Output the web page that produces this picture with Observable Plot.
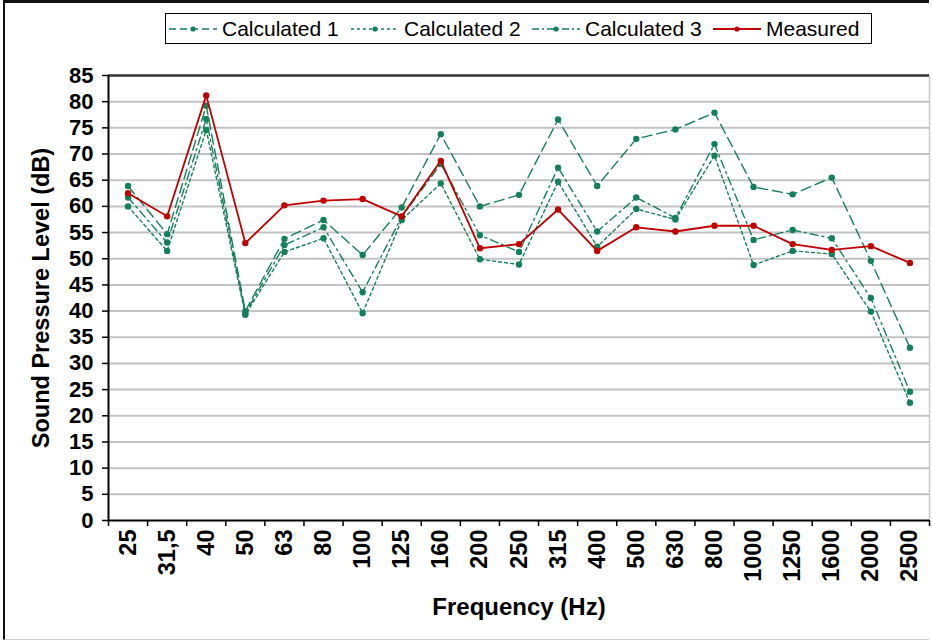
<!DOCTYPE html>
<html>
<head>
<meta charset="utf-8">
<script src="https://cdn.jsdelivr.net/npm/d3@7"></script>
<script src="https://cdn.jsdelivr.net/npm/@observablehq/plot@0.6"></script>
<style>
  html, body { margin: 0; padding: 0; background: #fff; }
  #wrap { position: relative; width: 932px; height: 642px; overflow: hidden; font-family: "Liberation Sans", Arial, sans-serif; }
  #outer { position: absolute; left: 3px; top: 0px; width: 924px; height: 636px; border-top: 3px solid #111; border-left: 2px solid #111; border-bottom: 1px solid #ccc; pointer-events: none; }
  #legend { position: absolute; left: 165px; top: 13px; width: 705px; height: 29px; border: 1.5px solid #000; background: #fff; }
  .item { position: absolute; top: 0; height: 29px; display: flex; align-items: center; font-size: 21px; color: #000; white-space: nowrap; }
  .item svg { margin-right: 5px; }
</style>
</head>
<body>
<div id="wrap"></div>
<script>
const categories = ["25","31,5","40","50","63","80","100","125","160","200","250","315","400","500","630","800","1000","1250","1600","2000","2500"];
const calc1    = [63.9,54.7,79.2,40.0,53.8,57.4,50.7,59.8,73.8,60.0,62.2,76.6,63.9,72.9,74.7,77.9,63.7,62.3,65.5,49.6,33.0];
const calc2    = [60.0,51.5,74.6,39.3,51.3,53.9,39.6,57.4,64.4,49.9,48.9,64.7,52.3,59.5,57.5,69.7,48.8,51.5,50.9,39.9,22.5];
const calc3    = [61.7,53.1,76.7,39.6,52.6,56.0,43.6,58.0,68.1,54.5,51.3,67.4,55.2,61.7,57.8,71.9,53.6,55.5,53.9,42.5,24.6];
const measured = [62.5,58.1,81.2,53.0,60.2,61.1,61.4,58.1,68.7,52.0,52.8,59.4,51.5,56.0,55.2,56.3,56.3,52.8,51.7,52.4,49.2];
const seriesNames = ["Calculated 1","Calculated 2","Calculated 3","Measured"];
const yTicks = [0,5,10,15,20,25,30,35,40,45,50,55,60,65,70,75,80,85];
const yTitle = "Sound Pressure Level (dB)";
const xTitle = "Frequency (Hz)";

const green = "#14805a";
const red = "#c00000";
const dashes = ["10,5", "3,3", "8,4,2,4", null];
const colors = [green, green, green, red];
const allSeries = [calc1, calc2, calc3, measured];

const rows = allSeries.map(vals => vals.map((v, i) => ({i, v})));
const idx = categories.map((d, i) => i);
const bounds = categories.map((d, i) => i - 0.5).concat([categories.length - 0.5]);

const marks = [];
marks.push(Plot.ruleY(yTicks.filter(v => v > 0 && v < 85), {stroke: "#c2c2c2", strokeWidth: 2}));
marks.push(Plot.ruleX([categories.length - 0.5], {stroke: "#c8c8c8", strokeWidth: 1.5}));
marks.push(Plot.ruleY([85], {stroke: "#333", strokeWidth: 2.5}));
marks.push(Plot.axisY(yTicks, {tickSize: 6, tickPadding: 9, fontSize: 22, fontWeight: "bold", label: null, stroke: "#000", strokeWidth: 1.5}));
marks.push(Plot.axisX(bounds, {tickSize: 6, tickFormat: () => "", label: null, stroke: "#000", strokeWidth: 1.5}));
marks.push(Plot.axisX(idx, {tickSize: 0, tickPadding: 9, tickRotate: -90, tickFormat: i => categories[i], fontSize: 23.5, fontWeight: "bold", label: null}));
[0, 1, 2, 3].forEach(s => {
  marks.push(Plot.line(rows[s], {x: "i", y: "v", stroke: colors[s], strokeWidth: s === 3 ? 1.8 : 1.4, strokeDasharray: dashes[s] || undefined}));
  marks.push(Plot.dot(rows[s], {x: "i", y: "v", fill: colors[s], r: 3.2, stroke: "none"}));
});
marks.push(Plot.ruleX([-0.5], {stroke: "#000", strokeWidth: 2}));
marks.push(Plot.ruleY([0], {stroke: "#000", strokeWidth: 2}));
marks.push(Plot.text([yTitle], {frameAnchor: "left", textAnchor: "middle", rotate: -90, dx: -67, fontSize: 23.5, fontWeight: "bold", fill: "#000"}));
marks.push(Plot.text([xTitle], {frameAnchor: "bottom", textAnchor: "middle", dy: 94, fontSize: 24, fontWeight: "bold", fill: "#000"}));

const chart = Plot.plot({
  width: 932,
  height: 642,
  marginLeft: 108,
  marginRight: 3,
  marginTop: 75,
  marginBottom: 122,
  style: {fontFamily: "'Liberation Sans', Arial, sans-serif", background: "#fff", color: "#000", overflow: "visible"},
  x: {domain: [-0.5, categories.length - 0.5]},
  y: {domain: [0, 85]},
  marks
});
const wrap = document.getElementById("wrap");
wrap.appendChild(chart);

const outer = document.createElement("div");
outer.id = "outer";
wrap.appendChild(outer);

const legend = document.createElement("div");
legend.id = "legend";
const lefts = [3, 185, 366, 547];
seriesNames.forEach((name, s) => {
  const item = document.createElement("div");
  item.className = "item";
  item.style.left = lefts[s] + "px";
  const dash = dashes[s] ? `stroke-dasharray="${s === 0 ? '7,4' : s === 1 ? '3,3' : '7,3,2,3'}"` : "";
  item.innerHTML = `<svg width="48" height="12"><line x1="0" y1="6" x2="48" y2="6" stroke="${colors[s]}" stroke-width="${s === 3 ? 1.8 : 1.4}" ${dash}/><circle cx="24" cy="6" r="2.6" fill="${colors[s]}"/></svg><span>${name}</span>`;
  legend.appendChild(item);
});
wrap.appendChild(legend);
</script>
</body>
</html>
